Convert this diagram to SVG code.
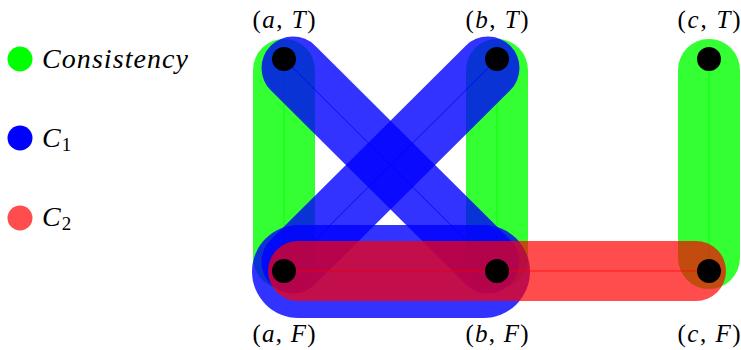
<svg xmlns="http://www.w3.org/2000/svg" width="741" height="350" viewBox="0 0 741 350">
<style>
.lbl{font-family:"Liberation Serif","DejaVu Serif",serif;font-size:25px;fill:#000;}
.leg{font-size:28px;}
.it{font-style:italic;}
.g{stroke:#00ff00;stroke-opacity:0.8;fill:none;stroke-linecap:round;}
.b{stroke:#0000ff;stroke-opacity:0.8;fill:none;stroke-linecap:round;}
.r{stroke:#ff0000;stroke-opacity:0.7;fill:none;stroke-linecap:round;}
.thin{stroke-width:1;stroke-linecap:butt;}
.node{fill:#000;}
</style>
<rect width="741" height="350" fill="#fff"/>
<g id="legend">
  <g id="legend-consistency">
    <circle cx="20" cy="59" r="12.5" fill="#00ff00"/>
    <text class="lbl leg it" x="42" y="68" textLength="146" lengthAdjust="spacing">Consistency</text>
  </g>
  <g id="legend-c1">
    <circle cx="20" cy="138" r="12.5" fill="#0000ff"/>
    <text class="lbl leg" x="42" y="147"><tspan class="it">C</tspan><tspan font-size="19" dx="1" dy="4">1</tspan></text>
  </g>
  <g id="legend-c2">
    <circle cx="20" cy="218" r="12.5" fill="#ff4d4d"/>
    <text class="lbl leg" x="42" y="226"><tspan class="it">C</tspan><tspan font-size="19" dx="1" dy="4">2</tspan></text>
  </g>
</g>
<g id="connectors">
  <g id="consistency-edges">
    <line class="g" x1="284" y1="70" x2="284" y2="258" stroke-width="62"/>
    <line class="g thin" x1="284" y1="59" x2="284" y2="271"/>
    <line class="g" x1="497" y1="70" x2="497" y2="258" stroke-width="62"/>
    <line class="g thin" x1="497" y1="59" x2="497" y2="271"/>
    <line class="g" x1="709" y1="70" x2="709" y2="258" stroke-width="62"/>
    <line class="g thin" x1="709" y1="59" x2="709" y2="271"/>
  </g>
  <g id="c1-edges">
    <line class="b" x1="293" y1="68" x2="488" y2="262" stroke-width="63"/>
    <line class="b thin" x1="284" y1="59" x2="497" y2="271"/>
    <line class="b" x1="488" y1="68" x2="293" y2="262" stroke-width="63"/>
    <line class="b thin" x1="497" y1="59" x2="284" y2="271"/>
    <line class="b" x1="298.5" y1="271.5" x2="483.5" y2="271.5" stroke-width="93"/>
    <line class="b thin" x1="284" y1="271" x2="497" y2="271"/>
  </g>
  <g id="c2-edges">
    <line class="r" x1="298" y1="271" x2="696" y2="271" stroke-width="60"/>
    <line class="r thin" x1="284" y1="271" x2="709" y2="271"/>
  </g>
</g>
<g id="node-aT"><circle class="node" cx="284" cy="59" r="12"/><text class="lbl" x="284" y="28" text-anchor="middle" textLength="63" lengthAdjust="spacing">(<tspan class="it">a</tspan>, <tspan class="it">T</tspan>)</text></g>
<g id="node-bT"><circle class="node" cx="497" cy="59" r="12"/><text class="lbl" x="497" y="28" text-anchor="middle" textLength="63" lengthAdjust="spacing">(<tspan class="it">b</tspan>, <tspan class="it">T</tspan>)</text></g>
<g id="node-cT"><circle class="node" cx="709" cy="59" r="12"/><text class="lbl" x="709" y="28" text-anchor="middle" textLength="63" lengthAdjust="spacing">(<tspan class="it">c</tspan>, <tspan class="it">T</tspan>)</text></g>
<g id="node-aF"><circle class="node" cx="284" cy="271" r="12"/><text class="lbl" x="284" y="342" text-anchor="middle" textLength="63" lengthAdjust="spacing">(<tspan class="it">a</tspan>, <tspan class="it">F</tspan>)</text></g>
<g id="node-bF"><circle class="node" cx="497" cy="271" r="12"/><text class="lbl" x="497" y="342" text-anchor="middle" textLength="63" lengthAdjust="spacing">(<tspan class="it">b</tspan>, <tspan class="it">F</tspan>)</text></g>
<g id="node-cF"><circle class="node" cx="709" cy="271" r="12"/><text class="lbl" x="709" y="342" text-anchor="middle" textLength="63" lengthAdjust="spacing">(<tspan class="it">c</tspan>, <tspan class="it">F</tspan>)</text></g>
</svg>
